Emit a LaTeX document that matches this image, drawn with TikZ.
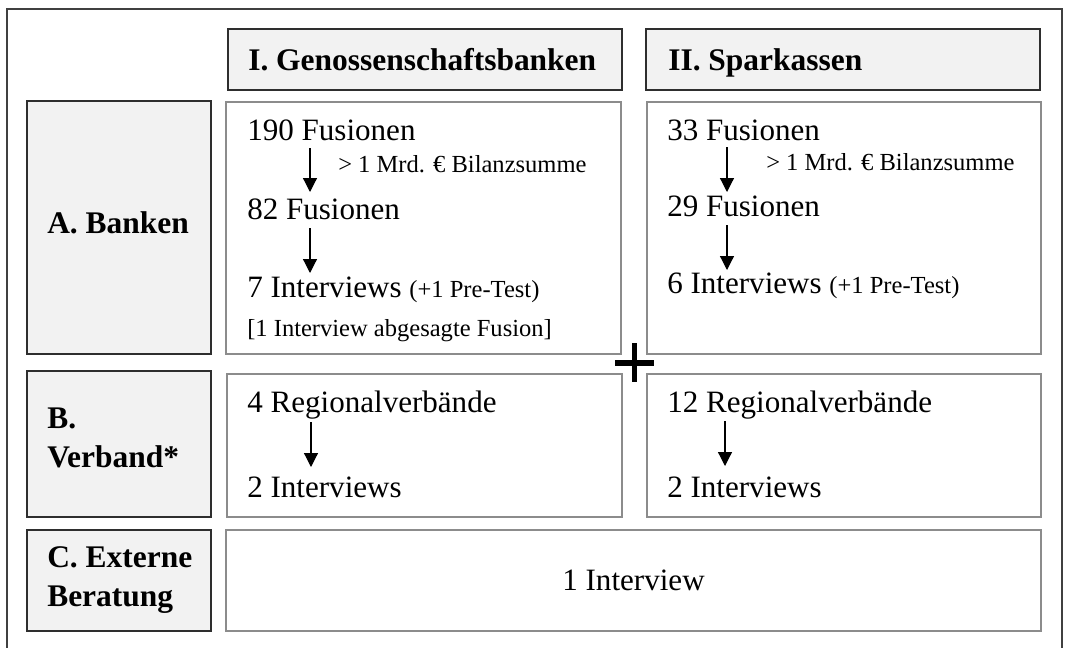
\documentclass[tikz,border=0pt]{standalone}
\usepackage{fontspec}
\setmainfont{Liberation Serif}
\usetikzlibrary{arrows.meta,fit}

\definecolor{hdrfill}{HTML}{F2F2F2}
\definecolor{hdrline}{HTML}{2E2E2E}
\definecolor{cellline}{HTML}{8C8C8C}
\definecolor{frameline}{HTML}{404040}

\newcommand{\bigtxt}{\fontsize{23.3}{28}\selectfont}
\newcommand{\boldtxt}{\fontsize{23.6}{29}\selectfont\bfseries}
\newcommand{\smalltxt}{\fontsize{18.4}{22}\selectfont}

\tikzset{
  hdrbox/.style={draw=hdrline, line width=1.2pt, fill=hdrfill, inner sep=0pt},
  cellbox/.style={draw=cellline, line width=0.8pt, fill=white, inner sep=0pt},
  txt/.style={anchor=base west, inner sep=0pt, font=\bigtxt},
  btxt/.style={anchor=base west, inner sep=0pt, font=\boldtxt},
  stxt/.style={anchor=base west, inner sep=0pt, font=\smalltxt},
  flow/.style={line width=0.9pt, -{Triangle[width=10.5pt,length=10.5pt]}},
}

\begin{document}
\begin{tikzpicture}[x=0.75pt,y=-0.75pt]
\useasboundingbox (0,0) rectangle (1065,647);

% outer frame (open at the bottom)
\draw[frameline, line width=1.1pt] (7,648) -- (7,9) -- (1062,9) -- (1062,648);

% column headers
\node[hdrbox, fit={(228,29) (622,90)}] (hI) {};
\node[hdrbox, fit={(646,29) (1040,90)}] (hII) {};
\node[btxt] (hItxt) at (248,70) {I. Genossenschaftsbanken};
\node[btxt] (hIItxt) at (668,70) {II. Sparkassen};

% row headers
\node[hdrbox, fit={(27,101) (211,354)}] (rA) {};
\node[hdrbox, fit={(27,371) (211,517)}] (rB) {};
\node[hdrbox, fit={(27,530) (211,631)}] (rC) {};
\node[btxt] (rAtxt) at (47,233) {A. Banken};
\node[btxt] (rBtxt1) at (47,428) {B.};
\node[btxt] (rBtxt2) at (47,467) {Verband*};
\node[btxt] (rCtxt1) at (47,567) {C. Externe};
\node[btxt] (rCtxt2) at (47,606) {Beratung};

% cells
\node[cellbox, fit={(226,102) (621,354)}] (cAI) {};
\node[cellbox, fit={(647,102) (1041,354)}] (cAII) {};
\node[cellbox, fit={(227,374) (622,517)}] (cBI) {};
\node[cellbox, fit={(647,374) (1041,517)}] (cBII) {};
\node[cellbox, fit={(226,530) (1041,631)}] (cC) {};

% A / I
\node[txt] (gF190) at (247,140) {190 Fusionen};
\node[stxt] (gCrit) at (338,172) {> 1 Mrd. € Bilanzsumme};
\node[txt] (gF82) at (247,219) {82 Fusionen};
\node[txt] (gInt) at (247,297) {7 Interviews {\smalltxt(+1 Pre-Test)}};
\node[stxt] (gAbg) at (247,336) {[1 Interview abgesagte Fusion]};
\coordinate (g1s) at (310,148); \coordinate (g1e) at (310,192);
\coordinate (g2s) at (310,228); \coordinate (g2e) at (310,273);
\draw[flow] (g1s) -- (g1e);
\draw[flow] (g2s) -- (g2e);

% A / II
\node[txt] (sF33) at (667,140) {33 Fusionen};
\node[stxt] (sCrit) at (766,170) {> 1 Mrd. € Bilanzsumme};
\node[txt] (sF29) at (667,216) {29 Fusionen};
\node[txt] (sInt) at (667,293) {6 Interviews {\smalltxt(+1 Pre-Test)}};
\coordinate (s1s) at (727,147); \coordinate (s1e) at (727,192);
\coordinate (s2s) at (727,225); \coordinate (s2e) at (727,270);
\draw[flow] (s1s) -- (s1e);
\draw[flow] (s2s) -- (s2e);

% B / I
\node[txt] (gRV) at (247,412) {4 Regionalverbände};
\node[txt] (gRVint) at (247,497) {2 Interviews};
\coordinate (g3s) at (311,422); \coordinate (g3e) at (311,467);
\draw[flow] (g3s) -- (g3e);

% B / II
\node[txt] (sRV) at (667,412) {12 Regionalverbände};
\node[txt] (sRVint) at (667,497) {2 Interviews};
\coordinate (s3s) at (725,421); \coordinate (s3e) at (725,466);
\draw[flow] (s3s) -- (s3e);

% C
\node[anchor=base, inner sep=0pt, font=\bigtxt] (cCtxt) at (633.5,590) {1 Interview};

% plus sign between the two columns
\draw[line width=5pt] (615,363) -- (654,363);
\draw[line width=3.8pt] (634.5,343) -- (634.5,382);
\end{tikzpicture}
\end{document}
